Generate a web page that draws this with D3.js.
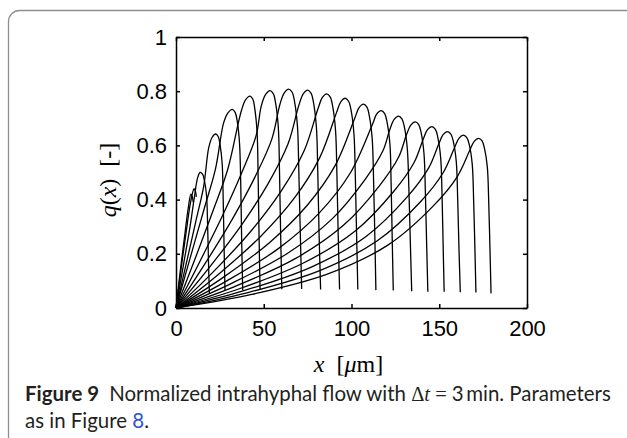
<!DOCTYPE html>
<html>
<head>
<meta charset="utf-8">
<script src="https://cdn.jsdelivr.net/npm/d3@7"></script>
<style>
  body { margin: 0; background: #fff; }
  svg { display: block; }
</style>
</head>
<body>
<svg id="fig" width="627" height="438"></svg>
<script>
// tick values / labels
const xTicks = [0, 50, 100, 150, 200];
const xTickLabels = ['0', '50', '100', '150', '200'];
const yTicks = [0, 0.2, 0.4, 0.6, 0.8, 1];
const yTickLabels = ['0', '0.2', '0.4', '0.6', '0.8', '1'];

// q(x) profiles, one per time step, [x, q]
const t01 = [[0,0],[2.5,0.14],[5,0.27],[7,0.37],[8.5,0.42],[9.3,0.41],[9.8,0.39]];
const t02 = [[0,0],[3,0.15],[6,0.29],[8.3,0.39],[10.3,0.44],[11.1,0.43],[11.6,0.41]];
const t03 = [[0,0],[4,0.15],[8,0.3],[10.5,0.41],[12.3,0.48],[13.7,0.5],[15.2,0.493],[16.2,0.47],[17.4,0.415],[18,0.31],[18.5,0.175],[19,0.055]];
const t04 = [[0,0],[5.7,0.16],[11.3,0.32],[15.8,0.45],[18.6,0.59],[20.6,0.63],[22.6,0.642],[24.1,0.632],[25.1,0.603],[26.3,0.533],[26.9,0.398],[27.4,0.225],[27.9,0.066]];
const t05 = [[0,0],[8,0.183],[16.1,0.367],[22.5,0.513],[27.1,0.682],[29.6,0.72],[32.1,0.733],[33.7,0.722],[34.9,0.689],[36.2,0.608],[36.9,0.454],[37.4,0.257],[38,0.066]];
const t06 = [[0,0],[10.6,0.177],[21.1,0.359],[29.5,0.512],[37.2,0.727],[39.7,0.769],[42.2,0.782],[43.8,0.77],[44.9,0.735],[46.2,0.649],[46.8,0.485],[47.3,0.274],[47.9,0.068]];
const t07 = [[0,0],[13.4,0.169],[26.8,0.345],[37.5,0.5],[45.6,0.635],[48.6,0.746],[51.1,0.788],[53.6,0.802],[55.5,0.79],[56.8,0.754],[58.3,0.666],[59,0.497],[59.6,0.281],[60.3,0.069]];
const t08 = [[0,0],[16.1,0.159],[32.1,0.328],[44.9,0.482],[54.6,0.623],[59.2,0.751],[61.7,0.794],[64.2,0.808],[66.2,0.796],[67.6,0.76],[69.2,0.671],[70,0.501],[70.8,0.283],[71.6,0.07]];
const t09 = [[0,0],[18.8,0.148],[37.5,0.308],[52.5,0.459],[63.8,0.605],[70,0.748],[72.5,0.79],[75,0.804],[77,0.792],[78.4,0.756],[80,0.667],[80.8,0.498],[81.5,0.281],[82.4,0.068]];
const t10 = [[0,0],[21.5,0.135],[43,0.286],[60.1,0.433],[73,0.58],[80.9,0.735],[83.4,0.777],[85.9,0.79],[87.9,0.778],[89.3,0.743],[90.9,0.656],[91.7,0.49],[92.4,0.277],[93.2,0.068]];
const t11 = [[0,0],[24.1,0.124],[48.2,0.264],[67.5,0.406],[81.9,0.555],[91.4,0.72],[93.9,0.761],[96.4,0.774],[98.4,0.762],[99.8,0.728],[101.4,0.642],[102.2,0.48],[102.9,0.271],[103.6,0.068]];
const t12 = [[0,0],[26.7,0.112],[53.4,0.242],[74.8,0.379],[90.8,0.527],[101.8,0.699],[104.3,0.739],[106.8,0.752],[108.8,0.741],[110.2,0.707],[111.8,0.624],[112.6,0.466],[113.3,0.263],[113.9,0.066]];
const t13 = [[0,0],[29.2,0.101],[58.5,0.22],[81.8,0.352],[99.4,0.499],[111.9,0.677],[114.4,0.716],[116.9,0.728],[118.9,0.717],[120.3,0.684],[121.9,0.604],[122.6,0.451],[123.2,0.255],[123.8,0.065]];
const t14 = [[0,0],[31.7,0.091],[63.4,0.201],[88.8,0.328],[107.8,0.475],[117.9,0.58],[121.8,0.658],[124.3,0.696],[126.8,0.708],[128.8,0.697],[130.2,0.666],[131.8,0.588],[132.7,0.439],[133.5,0.248],[134.3,0.062]];
const t15 = [[0,0],[34.1,0.081],[68.2,0.183],[95.4,0.305],[115.9,0.451],[126.8,0.556],[131.3,0.639],[133.8,0.675],[136.3,0.687],[138.3,0.677],[139.7,0.646],[141.3,0.57],[142.1,0.426],[142.8,0.24],[143.5,0.06]];
const t16 = [[0,0],[36.5,0.072],[72.9,0.167],[102.1,0.284],[123.9,0.429],[135.6,0.536],[140.8,0.622],[143.3,0.658],[145.8,0.669],[147.8,0.659],[149.2,0.629],[150.8,0.555],[151.6,0.415],[152.2,0.234],[152.8,0.06]];
const t17 = [[0,0],[38.7,0.064],[77.4,0.152],[108.3,0.264],[131.5,0.408],[143.9,0.516],[149.7,0.605],[152.2,0.64],[154.7,0.651],[156.7,0.641],[158.1,0.612],[159.7,0.54],[160.5,0.404],[161.2,0.228],[162,0.058]];
const t18 = [[0,0],[41,0.057],[81.9,0.138],[114.7,0.248],[139.2,0.391],[152.3,0.5],[158.8,0.593],[161.3,0.627],[163.8,0.638],[165.8,0.628],[167.2,0.6],[168.8,0.53],[169.6,0.396],[170.3,0.223],[170.9,0.057]];
const t19 = [[0,0],[43.1,0.05],[86.2,0.125],[120.7,0.232],[146.5,0.376],[160.3,0.485],[167.4,0.582],[169.9,0.615],[172.4,0.626],[174.4,0.617],[175.8,0.588],[177.4,0.52],[178.2,0.388],[178.9,0.219],[179.5,0.054]];

const curves = [t01, t02, t03, t04, t05, t06, t07, t08, t09, t10,
                t11, t12, t13, t14, t15, t16, t17, t18, t19];

let svg = d3.select('#fig');

let plot = {
  left: 176,
  right: 527,
  top: 37,
  bottom: 308
};

let x = d3.scaleLinear().domain([0, 200]).range([plot.left, plot.right]);
let y = d3.scaleLinear().domain([0, 1]).range([plot.bottom, plot.top]);

// figure panel border (runs off the right and bottom edges)
svg.append('rect')
  .attr('x', 8.5)
  .attr('y', 10.5)
  .attr('width', 660)
  .attr('height', 480)
  .attr('rx', 11)
  .attr('fill', 'none')
  .attr('stroke', '#8f8f8f')
  .attr('stroke-width', 1.3);

const tickFont = '"Liberation Sans", Arial, Helvetica, sans-serif';

function styleAxis(g) {
  g.selectAll('path, line').attr('stroke', '#000').attr('stroke-width', 1.5);
  g.selectAll('text')
    .attr('font-family', tickFont)
    .attr('font-size', 22)
    .attr('fill', '#000');
}

// bottom
svg.append('g')
  .attr('transform', `translate(0,${plot.bottom})`)
  .call(d3.axisBottom(x).tickValues(xTicks).tickFormat((d, i) => xTickLabels[i])
    .tickSizeInner(-4).tickSizeOuter(0).tickPadding(12))
  .call(styleAxis);

// top
svg.append('g')
  .attr('transform', `translate(0,${plot.top})`)
  .call(d3.axisTop(x).tickValues(xTicks).tickFormat('')
    .tickSizeInner(-4).tickSizeOuter(0))
  .call(styleAxis);

// left
svg.append('g')
  .attr('transform', `translate(${plot.left},0)`)
  .call(d3.axisLeft(y).tickValues(yTicks).tickFormat((d, i) => yTickLabels[i])
    .tickSizeInner(-4).tickSizeOuter(0).tickPadding(9))
  .call(styleAxis);

// right
svg.append('g')
  .attr('transform', `translate(${plot.right},0)`)
  .call(d3.axisRight(y).tickValues(yTicks).tickFormat('')
    .tickSizeInner(-4).tickSizeOuter(0))
  .call(styleAxis);

// curves
let line = d3.line()
  .x(d => x(d[0]))
  .y(d => y(d[1]))
  .curve(d3.curveCatmullRom.alpha(0.5));

svg.append('g')
  .selectAll('.profile')
  .data(curves)
  .enter()
  .append('path')
  .attr('class', 'profile')
  .attr('d', line)
  .attr('fill', 'none')
  .attr('stroke', '#000')
  .attr('stroke-width', 1.3)
  .attr('stroke-linejoin', 'round');

// axis titles
const mathFont = '"Liberation Serif", "Times New Roman", serif';

let xl = svg.append('text')
  .attr('x', (plot.left + plot.right) / 2 - 3)
  .attr('y', 372)
  .attr('text-anchor', 'middle')
  .attr('font-family', mathFont)
  .attr('font-size', 24);
xl.append('tspan').attr('font-style', 'italic').text('x');
xl.append('tspan').text('\u2002[');
xl.append('tspan').attr('font-style', 'italic').text('\u03bc');
xl.append('tspan').text('m]');

let yl = svg.append('text')
  .attr('transform', 'translate(116,180) rotate(-90)')
  .attr('text-anchor', 'middle')
  .attr('font-family', mathFont)
  .attr('font-size', 24);
yl.append('tspan').attr('font-style', 'italic').text('q');
yl.append('tspan').text('(');
yl.append('tspan').attr('font-style', 'italic').text('x');
yl.append('tspan').text(')\u2002[-]');

// caption
const capFont = 'Lato, "Open Sans", sans-serif';

let cap1 = svg.append('text')
  .attr('x', 25)
  .attr('y', 401)
  .attr('font-family', capFont)
  .attr('font-size', 18)
  .attr('fill', '#231f20');
cap1.append('tspan').attr('font-weight', 'bold').text('Figure 9');
cap1.append('tspan').attr('dx', 10).text('Normalized intrahyphal flow with ');
cap1.append('tspan').attr('font-family', mathFont).text('\u0394');
cap1.append('tspan').attr('font-family', mathFont).attr('font-style', 'italic').text('t');
cap1.append('tspan').attr('font-family', mathFont).text(' = ');
cap1.append('tspan').text('3\u2009min. Parameters');

// fit the first caption line to the printed width
let w1 = cap1.node().getComputedTextLength();
let capSize = 18 * 576 / w1;
cap1.attr('font-size', capSize);

let cap2 = svg.append('text')
  .attr('x', 25)
  .attr('y', 428)
  .attr('font-family', capFont)
  .attr('font-size', capSize)
  .attr('fill', '#231f20');
cap2.append('tspan').text('as in Figure ');
cap2.append('tspan').attr('fill', '#2b55d6').text('8');
cap2.append('tspan').text('.');
</script>
</body>
</html>
